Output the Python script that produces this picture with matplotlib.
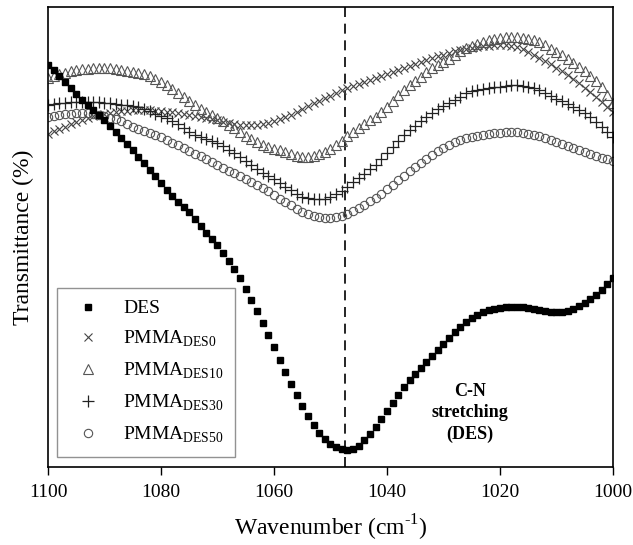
import numpy as np
import matplotlib.pyplot as plt

plt.rcParams['font.family'] = ['Liberation Serif', 'DejaVu Serif']
plt.rcParams['mathtext.fontset'] = 'custom'
plt.rcParams['mathtext.rm'] = 'Liberation Serif'

# wavenumber grid, 1100 -> 1000 cm-1
wavenumber = np.arange(1100, 999, -1)

# transmittance (arbitrary units)
des = [402, 397, 391, 385, 379, 373, 367, 362, 357, 352,
       347, 341, 335, 329, 323, 317, 310, 304, 297, 291,
       284, 277, 271, 265, 260, 255, 248, 241, 234, 228,
       222, 214, 206, 198, 189, 178, 167, 156, 144, 132,
       120, 107, 95, 83, 72, 61, 51, 42, 34, 28,
       23, 20, 18, 17, 18, 21, 27, 33, 40, 48,
       56, 64, 72, 80, 87, 93, 99, 105, 111, 117,
       123, 129, 135, 140, 145, 149, 152, 155, 157, 158,
       159, 160, 160, 160, 160, 159, 158, 157, 156, 155,
       155, 155, 156, 158, 161, 164, 168, 172, 177, 183,
       189]
pmma_des0 = [333, 336, 338, 340, 343, 345, 347, 349, 351, 352,
             353, 354, 355, 356, 356, 357, 357, 357, 357, 356,
             356, 355, 355, 354, 353, 352, 351, 350, 349, 348,
             347, 345, 344, 343, 342, 342, 342, 342, 343, 344,
             346, 348, 350, 352, 355, 358, 361, 364, 366, 369,
             371, 374, 377, 379, 381, 383, 385, 387, 389, 391,
             393, 395, 397, 399, 401, 403, 405, 407, 409, 411,
             412, 414, 416, 417, 418, 419, 420, 421, 421, 422,
             422, 422, 421, 420, 418, 415, 412, 409, 406, 403,
             399, 396, 392, 388, 384, 379, 375, 370, 365, 360,
             355]
pmma_des10 = [389, 391, 393, 394, 396, 397, 398, 398, 399, 399,
              399, 399, 398, 397, 396, 395, 394, 393, 391, 388,
              385, 382, 378, 374, 370, 366, 362, 358, 355, 352,
              349, 346, 342, 339, 335, 331, 328, 325, 322, 320,
              318, 317, 315, 313, 311, 310, 310, 311, 313, 315,
              318, 322, 326, 331, 335, 339, 343, 347, 350, 355,
              360, 366, 372, 377, 382, 386, 390, 395, 399, 402,
              405, 408, 412, 416, 419, 421, 423, 425, 427, 428,
              429, 430, 430, 430, 429, 428, 427, 425, 422, 418,
              415, 412, 408, 404, 400, 396, 391, 386, 380, 372,
              364]
pmma_des30 = [362, 363, 364, 364, 365, 365, 365, 365, 365, 365,
              364, 364, 363, 362, 362, 361, 360, 358, 356, 353,
              351, 349, 346, 343, 339, 335, 332, 330, 328, 326,
              324, 321, 317, 314, 310, 306, 302, 298, 294, 291,
              288, 284, 280, 277, 273, 270, 269, 268, 268, 268,
              270, 273, 276, 280, 285, 289, 293, 298, 302, 308,
              314, 320, 326, 332, 337, 341, 346, 350, 354, 358,
              361, 364, 367, 370, 374, 376, 377, 378, 379, 380,
              380, 381, 382, 382, 381, 380, 379, 377, 374, 371,
              368, 366, 363, 360, 357, 354, 350, 345, 340, 335,
              330]
pmma_des50 = [350, 351, 352, 353, 353, 354, 354, 354, 353, 352,
              351, 349, 348, 346, 343, 340, 338, 336, 334, 332,
              330, 327, 324, 322, 319, 316, 313, 311, 308, 305,
              302, 299, 296, 294, 291, 288, 285, 282, 279, 276,
              272, 268, 265, 262, 258, 255, 253, 251, 250, 249,
              249, 250, 251, 253, 256, 259, 262, 266, 269, 273,
              278, 282, 287, 291, 296, 300, 304, 308, 312, 316,
              319, 322, 325, 327, 329, 330, 331, 332, 333, 334,
              334, 335, 335, 335, 334, 333, 332, 331, 329, 327,
              325, 323, 321, 319, 317, 315, 313, 311, 309, 308,
              306]

peak_position = 1047.5

fig = plt.figure(figsize=(6.33, 5.45), dpi=100)
ax = fig.add_axes([0.0758, 0.143, 0.8925, 0.844])

ax.plot(wavenumber, pmma_des0, linestyle='none', marker='x', markersize=6,
        markeredgewidth=0.8, color='#444444', label=r'PMMA$_{\mathrm{DES0}}$', zorder=2)
ax.plot(wavenumber, pmma_des10, linestyle='none', marker='^', markersize=7.5,
        markeredgewidth=0.8, markerfacecolor='none', color='#555555',
        label=r'PMMA$_{\mathrm{DES10}}$', zorder=2)
ax.plot(wavenumber, pmma_des30, linestyle='none', marker='+', markersize=8,
        markeredgewidth=0.9, color='#222222', label=r'PMMA$_{\mathrm{DES30}}$', zorder=2)
ax.plot(wavenumber, pmma_des50, linestyle='none', marker='o', markersize=6,
        markeredgewidth=0.8, markerfacecolor='none', color='#555555',
        label=r'PMMA$_{\mathrm{DES50}}$', zorder=2)
ax.plot(wavenumber, des, linestyle='none', marker='s', markersize=4.3,
        color='black', label='DES', zorder=3)

ax.axvline(peak_position, color='black', linestyle=(0, (6, 4)), linewidth=1.2, zorder=1)

ax.text(1025.3, 54, 'C-N\nstretching\n(DES)', ha='center', va='center',
        fontsize=13, fontweight='bold', linespacing=1.3)

ax.set_xlim(1100, 1000)
ax.set_ylim(0, 460)
ax.set_xticks([1100, 1080, 1060, 1040, 1020, 1000])
ax.set_yticks([])
ax.tick_params(axis='x', direction='out', length=6, width=1, labelsize=14, pad=6)
for s in ax.spines.values():
    s.set_linewidth(1.2)

ax.set_xlabel(r'Wavenumber (cm$^{\text{-1}}$)', fontsize=17, labelpad=9)
ax.set_ylabel('Transmittance (%)', fontsize=17, labelpad=10)

handles, labels = ax.get_legend_handles_labels()
order = [4, 0, 1, 2, 3]
leg = ax.legend([handles[i] for i in order], [labels[i] for i in order],
                loc='lower left', bbox_to_anchor=(0.016, 0.022), borderaxespad=0,
                fontsize=14, frameon=True, fancybox=False, edgecolor='#777777',
                labelspacing=0.6, handletextpad=0.8, borderpad=0.6)
leg.get_frame().set_linewidth(1.0)

plt.savefig('out.png', dpi=100)
